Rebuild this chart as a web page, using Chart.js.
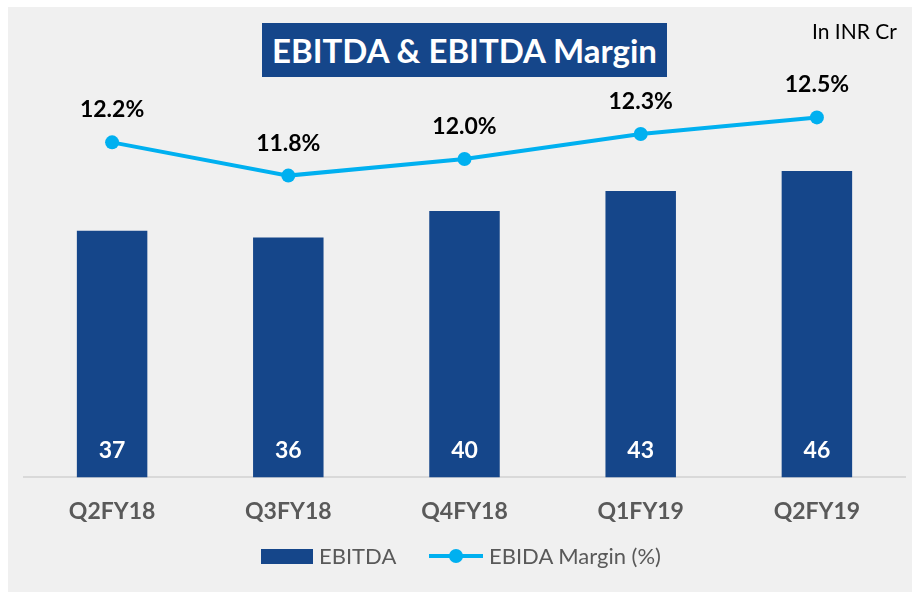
<!DOCTYPE html>
<html>
<head>
<meta charset="utf-8">
<script src="https://cdn.jsdelivr.net/npm/chart.js@4.4.1/dist/chart.umd.min.js"></script>
<style>
    html, body { margin: 0; padding: 0; background: #ffffff; }
    #wrap { position: relative; width: 912px; height: 593px; overflow: hidden; font-family: Lato, "Open Sans", sans-serif; }
    #chart { position: absolute; left: 0; top: 0; }
    .title-box {
        position: absolute; left: 262px; top: 23px; width: 405px; height: 54px;
        background: #15468a; color: #ffffff; font-weight: bold; font-size: 33px;
        line-height: 54px; text-align: center; white-space: nowrap;
    }
    .unit { position: absolute; left: 812px; top: 18px; font-size: 21px; color: #000000; white-space: nowrap; }
    .legend { position: absolute; top: 543px; left: 0; width: 912px; height: 26px; font-size: 22px; color: #595959; }
    .legend .swatch-bar { position: absolute; left: 261px; top: 6px; width: 52px; height: 15px; background: #15468a; }
    .legend .swatch-line { position: absolute; left: 429px; top: 11px; width: 54px; height: 4px; background: #00b0f0; }
    .legend .swatch-dot { position: absolute; left: 449px; top: 6px; width: 14px; height: 14px; border-radius: 50%; background: #00b0f0; }
    .legend span { position: absolute; top: 0; line-height: 26px; white-space: nowrap; }
</style>
</head>
<body>
<div id="wrap">
    <canvas id="chart" width="912" height="593"></canvas>
    <div class="title-box">EBITDA &amp; EBITDA Margin</div>
    <div class="unit">In INR Cr</div>
    <div class="legend" id="legend"></div>
</div>
<script>
// quarterly EBITDA (INR Cr) and margin (%)
const quarters = ['Q2FY18', 'Q3FY18', 'Q4FY18', 'Q1FY19', 'Q2FY19'];
const ebitda = [37, 36, 40, 43, 46];
const ebitdaMargin = [12.2, 11.8, 12.0, 12.3, 12.5];

const BAR_BLUE = '#15468a';
const LINE_BLUE = '#00b0f0';

// grey panel behind the plot
const panelBg = {
    id: 'panelBg',
    beforeDraw(chart) {
        const ctx = chart.ctx;
        ctx.save();
        ctx.fillStyle = '#f0f0f0';
        ctx.fillRect(8, 7, chart.width - 8, chart.height - 8);
        ctx.restore();
    }
};

// value labels: inside the bars near the base, above the line points
const valueLabels = {
    id: 'valueLabels',
    afterDatasetsDraw(chart) {
        const ctx = chart.ctx;
        ctx.save();
        ctx.font = 'bold 23px Lato';
        ctx.textAlign = 'center';

        chart.getDatasetMeta(1).data.forEach((bar, i) => {
            ctx.fillStyle = '#ffffff';
            ctx.textBaseline = 'middle';
            ctx.fillText(String(ebitda[i]), bar.x, bar.base - 27);
        });

        chart.getDatasetMeta(0).data.forEach((pt, i) => {
            ctx.fillStyle = '#000000';
            ctx.textBaseline = 'alphabetic';
            ctx.fillText(ebitdaMargin[i].toFixed(1) + '%', pt.x, pt.y - 25);
        });
        ctx.restore();
    }
};

const chart = new Chart(document.getElementById('chart'), {
    data: {
        labels: quarters,
        datasets: [
            {
                type: 'line',
                label: 'EBIDA Margin (%)',
                data: ebitdaMargin,
                borderColor: LINE_BLUE,
                backgroundColor: LINE_BLUE,
                borderWidth: 4,
                tension: 0,
                pointRadius: 7,
                pointBackgroundColor: LINE_BLUE,
                pointBorderWidth: 0,
                yAxisID: 'yMargin',
                order: 0
            },
            {
                type: 'bar',
                label: 'EBITDA',
                data: ebitda,
                backgroundColor: BAR_BLUE,
                borderWidth: 0,
                categoryPercentage: 1,
                barPercentage: 0.4,
                yAxisID: 'yValue',
                order: 1
            }
        ]
    },
    options: {
        responsive: false,
        animation: false,
        layout: { padding: { left: 24, right: 5, top: 11, bottom: 48 } },
        scales: {
            x: {
                grid: { display: false, drawTicks: false },
                border: { display: true, color: '#d9d9d9', width: 2 },
                ticks: {
                    color: '#595959',
                    font: { family: 'Lato', size: 23, weight: 'bold' },
                    padding: 20
                }
            },
            yValue: { display: false, min: 0, max: 70 },
            yMargin: { display: false, min: 8.17, max: 13.78 }
        },
        plugins: {
            legend: { display: false },
            tooltip: { enabled: false }
        }
    },
    plugins: [panelBg, valueLabels]
});

// legend row under the axis
const legendEl = document.getElementById('legend');
legendEl.innerHTML =
    '<div class="swatch-bar"></div><span style="left:319px">' + chart.data.datasets[1].label + '</span>' +
    '<div class="swatch-line"></div><div class="swatch-dot"></div>' +
    '<span style="left:489px">' + chart.data.datasets[0].label + '</span>';
</script>
</body>
</html>
